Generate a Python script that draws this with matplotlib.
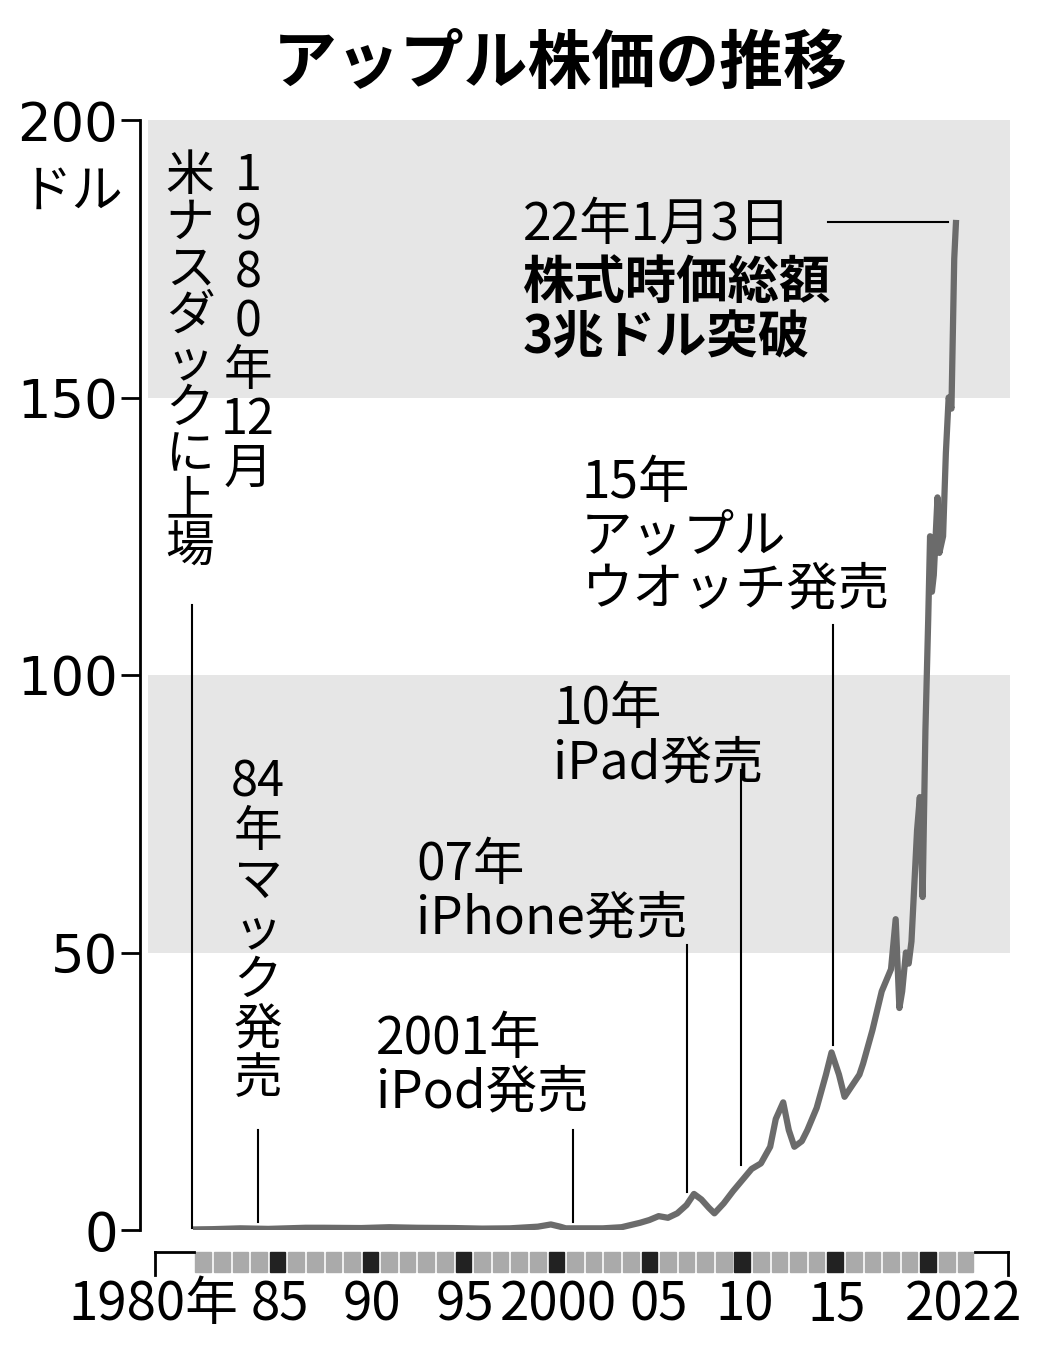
import matplotlib.pyplot as plt
from matplotlib.transforms import blended_transform_factory
from matplotlib.patches import Rectangle

plt.rcParams['font.family'] = ['Noto Sans CJK JP', 'DejaVu Sans']

W, H = 1037, 1354

years = [1980.95, 1982, 1983.5, 1985, 1987, 1988, 1990, 1991.5, 1993, 1995, 1996.5, 1998, 1999.5,
         2000.2, 2000.7, 2001, 2003, 2004, 2005, 2005.5, 2006, 2006.5, 2007, 2007.5, 2007.9,
         2008.3, 2008.7, 2009.0, 2009.5, 2010, 2010.5, 2011, 2011.5, 2012, 2012.3, 2012.7,
         2013.0, 2013.3, 2013.7, 2014, 2014.5, 2015, 2015.3, 2015.7, 2016, 2016.4, 2016.8,
         2017, 2017.5, 2018, 2018.5, 2018.75, 2018.95, 2019.1, 2019.3, 2019.45, 2019.6,
         2019.9, 2020.05, 2020.2, 2020.35, 2020.5, 2020.6, 2020.7, 2020.8, 2021.0,
         2021.1, 2021.3, 2021.45, 2021.6, 2021.75, 2021.9, 2022.0]
price = [0.1, 0.15, 0.3, 0.2, 0.4, 0.4, 0.35, 0.5, 0.4, 0.35, 0.25, 0.3, 0.6,
         1.0, 0.6, 0.3, 0.3, 0.5, 1.3, 1.8, 2.5, 2.2, 3.0, 4.5, 6.5,
         5.5, 4.0, 3.0, 4.8, 7.0, 9.0, 11, 12, 15, 20, 23,
         18, 15, 16, 18, 22, 28, 32, 28, 24, 26, 28,
         30, 36, 43, 47, 56, 40, 43, 50, 48, 52,
         72, 78, 60, 90, 110, 125, 115, 118, 132,
         122, 125, 140, 150, 148, 175, 182]

yticks = [0, 50, 100, 150, 200]
xlabels = ['1980年', '85', '90', '95', '2000', '05', '10', '15', '2022']
xlabel_pos = [1978.8, 1985.6, 1990.6, 1995.6, 2000.6, 2006.0, 2010.6, 2015.6, 2022.4]

fig = plt.figure(figsize=(W / 100, H / 100), dpi=100)
ax = fig.add_axes([140 / W, 1 - 1230 / H, 870 / W, 1110 / H])
ax.set_xlim(1978.1, 2024.9)
ax.set_ylim(0, 200)

ax.axhspan(150, 200, xmin=8 / 870, color='#e6e6e6', lw=0, zorder=0)
ax.axhspan(50, 100, xmin=8 / 870, color='#e6e6e6', lw=0, zorder=0)

ax.plot(years, price, color='#6b6b6b', lw=4.5, solid_capstyle='butt', zorder=3)

for s in ['top', 'right', 'bottom']:
    ax.spines[s].set_visible(False)
ax.spines['left'].set_linewidth(2)
ax.set_xticks([])
ax.set_yticks(yticks)
ax.set_yticklabels([str(t) for t in yticks])
ax.tick_params(axis='y', length=14, width=2, labelsize=38, pad=2)
for lb in ax.get_yticklabels():
    lb.set_family('Liberation Sans Narrow')
fig.text(72 / W, 1 - 192 / H, 'ドル', fontsize=37, ha='center', va='center')

# year strip
tr = blended_transform_factory(ax.transData, fig.transFigure)
for yr in range(1981, 2023):
    c = '#222222' if yr % 5 == 0 else '#aaaaaa'
    ax.add_patch(Rectangle((yr + 0.08, 1 - 1272 / H), 0.84, 20 / H, transform=tr,
                           color=c, clip_on=False))
for xb in [1978.9, 2024.8]:
    ax.plot([xb, xb], [1 - 1275 / H, 1 - 1252 / H], transform=tr, color='black', lw=2, clip_on=False)
ax.plot([1978.9, 1981], [1 - 1252 / H] * 2, transform=tr, color='black', lw=2, clip_on=False)
ax.plot([2023, 2024.8], [1 - 1252 / H] * 2, transform=tr, color='black', lw=2, clip_on=False)
for lab, xp in zip(xlabels, xlabel_pos):
    ax.text(xp, 1 - 1305 / H, lab, transform=tr, ha='center', va='center', fontsize=38,
            family=['Liberation Sans Narrow', 'Noto Sans CJK JP'])

fig.text(560 / W, 1 - 65 / H, 'アップル株価の推移', fontsize=46, fontweight='bold',
         ha='center', va='center')


def px(x, y):
    return x / W, 1 - y / H


def vline(x, y0, y1):
    fig.add_artist(plt.Line2D([x / W, x / W], [1 - y0 / H, 1 - y1 / H], color='black', lw=1.5))


fs = 37
cs = 35
fig.text(*px(248, 152), '1\n9\n8\n0\n年\n12\n月', fontsize=cs, ha='center', va='top', linespacing=0.98)
fig.text(*px(190, 152), '米\nナ\nス\nダ\nッ\nク\nに\n上\n場', fontsize=cs, ha='center', va='top', linespacing=0.92)
vline(192, 605, 1228)
fig.text(*px(258, 758), '84\n年\nマ\nッ\nク\n発\n売', fontsize=cs, ha='center', va='top', linespacing=1.0)
vline(258, 1130, 1222)
fig.text(*px(376, 1012), '2001年\niPod発売', fontsize=fs, ha='left', va='top', linespacing=1.0)
vline(573, 1130, 1222)
fig.text(*px(416, 838), '07年\niPhone発売', fontsize=fs, ha='left', va='top', linespacing=1.0)
vline(687, 945, 1192)
fig.text(*px(553, 683), '10年\niPad発売', fontsize=fs, ha='left', va='top', linespacing=1.0)
vline(741, 770, 1165)
fig.text(*px(581, 456), '15年\nアップル\nウオッチ発売', fontsize=fs, ha='left', va='top', linespacing=1.0)
vline(833, 625, 1045)
fig.text(*px(523, 225), '22年1月3日', fontsize=fs, ha='left', va='center')
fig.text(*px(523, 256), '株式時価総額\n3兆ドル突破', fontsize=fs, fontweight='bold', ha='left', va='top', linespacing=1.05)
fig.add_artist(plt.Line2D([828 / W, 948 / W], [1 - 222 / H] * 2, color='black', lw=1.5))

fig.savefig('out.png', dpi=100, facecolor='white')
